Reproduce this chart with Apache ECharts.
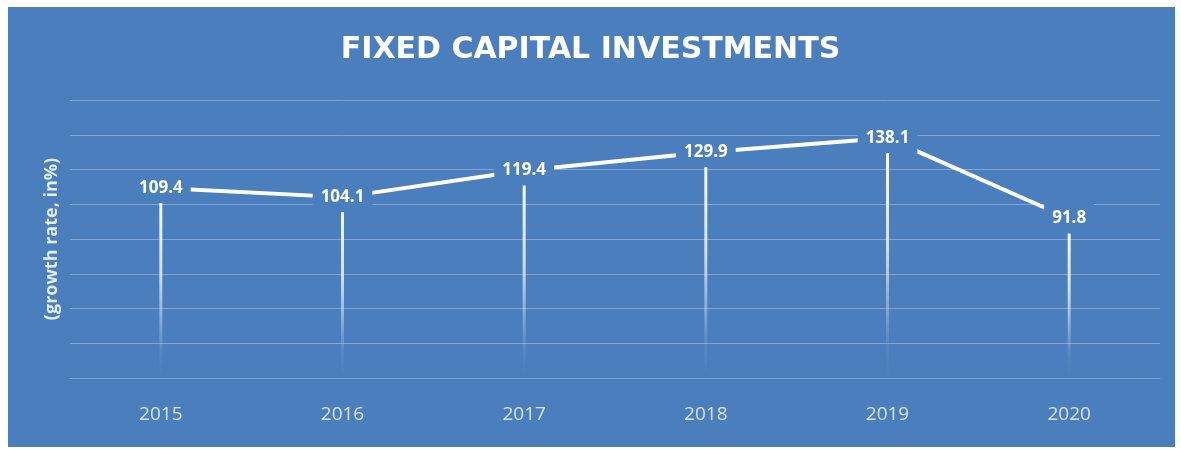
<!DOCTYPE html>
<html>
<head>
<meta charset="utf-8">
<script src="https://cdn.jsdelivr.net/npm/echarts@6/dist/echarts.min.js"></script>
<style>
html,body{margin:0;padding:0;background:#fff;}
#wrap{position:relative;width:1181px;height:450px;}
#bg{position:absolute;left:8px;top:7px;width:1167px;height:440px;background:#4a7ebd;}
#chart{position:absolute;left:0;top:0;width:1181px;height:450px;}
</style>
</head>
<body>
<div id="wrap"><div id="bg"></div><div id="chart"></div></div>
<script>
const years = ['2015','2016','2017','2018','2019','2020'];
const growth = [109.4, 104.1, 119.4, 129.9, 138.1, 91.8];
const titleText = 'FIXED CAPITAL INVESTMENTS';
const yName = '(growth rate, in%)';

const BG = '#4a7ebd';
const chart = echarts.init(document.getElementById('chart'));
chart.setOption({
  backgroundColor: 'transparent',
  animation: false,
  title: {
    text: titleText,
    left: 'center',
    top: 30,
    textStyle: {color: '#ffffff', fontSize: 30, fontWeight: 'bold', fontFamily: 'DejaVu Sans'}
  },
  grid: {left: 70, right: 21, top: 100, bottom: 72},
  xAxis: {
    type: 'category',
    data: years,
    axisLine: {show: true, lineStyle: {color: '#7ea5d6', width: 1}},
    axisTick: {show: false},
    axisLabel: {color: '#d4e3f5', fontSize: 19, margin: 27, fontFamily: 'Open Sans'}
  },
  yAxis: {
    type: 'value',
    min: 0, max: 160, interval: 20,
    name: yName,
    nameLocation: 'middle',
    nameGap: 9,
    nameRotate: 90,
    nameTextStyle: {color: '#e4eefa', fontSize: 18, fontWeight: 'bold', fontFamily: 'Open Sans'},
    axisLabel: {show: false},
    axisLine: {show: false},
    axisTick: {show: false},
    splitLine: {lineStyle: {color: '#7ea5d6', width: 1}}
  },
  series: [
    {
      type: 'bar',
      data: growth,
      barWidth: 3,
      z: 1,
      itemStyle: {
        color: new echarts.graphic.LinearGradient(0, 0, 0, 1, [
          {offset: 0, color: 'rgba(255,255,255,1)'},
          {offset: 0.45, color: 'rgba(255,255,255,0.75)'},
          {offset: 0.85, color: 'rgba(255,255,255,0.08)'},
          {offset: 1, color: 'rgba(255,255,255,0)'}
        ])
      }
    },
    {
      type: 'line',
      data: growth,
      z: 3,
      symbol: 'circle',
      symbolSize: 1,
      showSymbol: true,
      itemStyle: {color: 'rgba(255,255,255,0)'},
      lineStyle: {color: '#ffffff', width: 4},
      label: {
        show: true,
        position: 'inside',
        color: '#ffffff',
        fontSize: 17,
        fontWeight: 'bold',
        fontFamily: 'Open Sans',
        backgroundColor: BG,
        padding: [6, 8, 7, 8],
        formatter: p => Number(p.value).toFixed(1)
      }
    }
  ]
});
</script>
</body>
</html>
